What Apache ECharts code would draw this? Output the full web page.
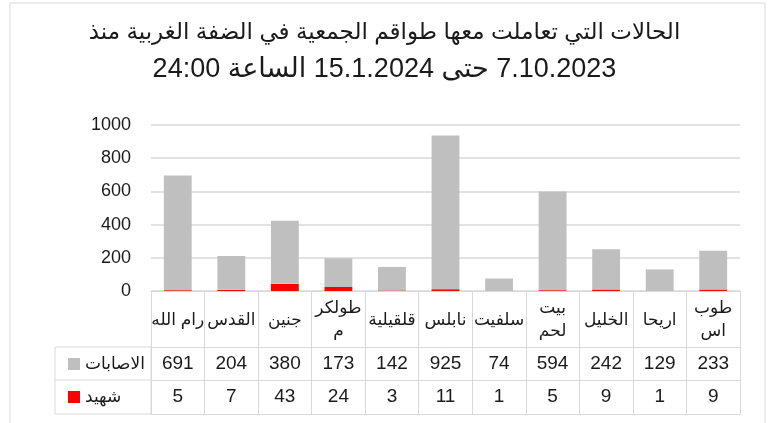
<!DOCTYPE html>
<html>
<head>
<meta charset="utf-8">
<title>الحالات</title>
<script src="https://cdn.jsdelivr.net/npm/echarts@6/dist/echarts.min.js"></script>
<style>
  html, body { margin: 0; padding: 0; background: #fff; }
  #main { width: 769px; height: 423px; }
</style>
</head>
<body>
<div id="main"></div>
<script>
// data
var categories = ['رام الله', 'القدس', 'جنين', 'طولكرم', 'قلقيلية', 'نابلس', 'سلفيت', 'بيت لحم', 'الخليل', 'اريحا', 'طوباس'];
// how the names wrap inside the table header
var headerLabels = ['رام الله', 'القدس', 'جنين', 'طولكر\nم', 'قلقيلية', 'نابلس', 'سلفيت', 'بيت\nلحم', 'الخليل', 'اريحا', 'طوب\nاس'];
var injuries = [691, 204, 380, 173, 142, 925, 74, 594, 242, 129, 233];
var martyrs = [5, 7, 43, 24, 3, 11, 1, 5, 9, 1, 9];
var yTicks = [0, 200, 400, 600, 800, 1000];
var titleLines = [
  'الحالات التي تعاملت معها طواقم الجمعية في الضفة الغربية منذ',
  '7.10.2023 حتى 15.1.2024 الساعة 24:00'
];

var FONT = '"Liberation Sans", "DejaVu Sans", Arial, sans-serif';
var TXT = '#1a1a1a';
var LINE = '#d9d9d9';

// table geometry (under the plot)
var gridLeft = 151, gridRight = 29, gridTop = 125, gridBottom = 132;
var axisY = 423 - gridBottom;       // y of value 0
var headH = 56, rowH = 33;
var legLeft = 55;

// canvas draws left-to-right by default, so wrap each line as an RTL run
function rtl(s) { return '\u202B' + s + '\u202C'; }

var myChart = echarts.init(document.getElementById('main'));

function tableAxis(vals, off, showLabel) {
  return {
    type: 'category',
    position: 'bottom',
    offset: off,
    data: vals.map(function (v) { return String(v); }),
    axisLine: { show: true, lineStyle: { color: LINE, width: 1 } },
    axisTick: { show: false },
    axisLabel: {
      show: showLabel, interval: 0, margin: 17, verticalAlign: 'middle',
      fontFamily: FONT, fontSize: 19, color: TXT
    },
    splitLine: { show: false }
  };
}

var option = {
  animation: false,
  title: {
    text: '{a|' + rtl(titleLines[0]) + '}\n{b|' + rtl(titleLines[1]) + '}',
    left: 'center',
    top: 15,
    padding: 0,
    textStyle: {
      fontFamily: FONT, fontWeight: 'normal', color: TXT, align: 'center',
      rich: {
        a: { fontFamily: FONT, fontSize: 23, color: TXT, lineHeight: 36, align: 'center' },
        b: { fontFamily: FONT, fontSize: 27, color: TXT, lineHeight: 38, align: 'center' }
      }
    }
  },
  legend: {
    data: ['الاصابات', 'شهيد'],
    orient: 'vertical',
    left: 63,
    top: 349,
    itemWidth: 12,
    itemHeight: 12,
    itemGap: 13,
    icon: 'rect',
    selectedMode: false,
    textStyle: { fontFamily: FONT, fontSize: 17, color: TXT, lineHeight: 20 }
  },
  grid: {
    left: gridLeft, right: gridRight, top: gridTop, bottom: gridBottom,
    containLabel: false, outerBoundsMode: 'none'
  },
  xAxis: [
    {
      type: 'category',
      data: categories,
      axisLine: { show: true, lineStyle: { color: LINE, width: 1 } },
      axisTick: { show: true, length: headH + 2 * rowH + 1, lineStyle: { color: LINE, width: 1 } },
      axisLabel: {
        interval: 0, margin: 29, verticalAlign: 'middle',
        fontFamily: FONT, fontSize: 17, color: TXT, lineHeight: 23,
        formatter: function (v, i) { return headerLabels[i]; }
      },
      splitLine: { show: false }
    },
    tableAxis(injuries, headH, true),
    tableAxis(martyrs, headH + rowH, true),
    tableAxis(categories, headH + 2 * rowH + 1, false)
  ],
  yAxis: {
    type: 'value',
    min: yTicks[0],
    max: yTicks[yTicks.length - 1],
    interval: 200,
    axisLine: { show: false },
    axisTick: { show: false },
    axisLabel: {
      margin: 20, fontFamily: FONT, fontSize: 18, color: TXT,
      formatter: function (v) { return String(v); }
    },
    splitLine: { lineStyle: { color: LINE, width: 1.5 } }
  },
  series: [
    {
      name: 'شهيد',
      type: 'bar',
      stack: 'total',
      barWidth: '52%',
      data: martyrs,
      itemStyle: { color: '#ff0000' }
    },
    {
      name: 'الاصابات',
      type: 'bar',
      stack: 'total',
      barWidth: '52%',
      data: injuries,
      itemStyle: { color: '#bfbfbf' }
    }
  ],
  graphic: [
    {
      type: 'rect', z: -1, silent: true,
      shape: { x: 10, y: 3, width: 755, height: 450 },
      style: { fill: 'none', stroke: LINE, lineWidth: 1 }
    },
    {
      type: 'polyline', silent: true,
      shape: { points: [[gridLeft, axisY + headH], [legLeft, axisY + headH], [legLeft, axisY + headH + 2 * rowH + 1], [gridLeft, axisY + headH + 2 * rowH + 1]] },
      style: { fill: 'none', stroke: LINE, lineWidth: 1 }
    },
    {
      type: 'line', silent: true,
      shape: { x1: legLeft, y1: axisY + headH + rowH, x2: gridLeft, y2: axisY + headH + rowH },
      style: { stroke: LINE, lineWidth: 1 }
    },
    {
      type: 'line', silent: true,
      shape: { x1: gridLeft, y1: axisY + headH, x2: gridLeft, y2: axisY + headH + 2 * rowH + 1 },
      style: { stroke: LINE, lineWidth: 1 }
    }
  ]
};

myChart.setOption(option);
</script>
</body>
</html>
